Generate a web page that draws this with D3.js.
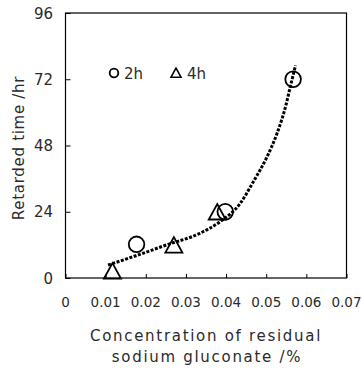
<!DOCTYPE html>
<html><head><meta charset="utf-8">
<script src="https://cdn.jsdelivr.net/npm/d3@7/dist/d3.min.js"></script>
<style>
html,body{margin:0;padding:0;background:#fff;}
svg{display:block;font-family:"DejaVu Sans",sans-serif;}
</style></head>
<body>
<svg id="chart" width="362" height="369"></svg>
<script>
const xTicks = [0, 0.01, 0.02, 0.03, 0.04, 0.05, 0.06, 0.07];
const xTickLabels = ["0", "0.01", "0.02", "0.03", "0.04", "0.05", "0.06", "0.07"];
const yTicks = [0, 24, 48, 72, 96];
const series2hX = [0.0177, 0.0398, 0.0567];
const series2hY = [12.2, 24, 72];
const series4hX = [0.0117, 0.027, 0.0378];
const series4hY = [2.6, 12, 24];
const trendX = [0.0106, 0.0168, 0.0252, 0.0335, 0.0385, 0.0435, 0.0468, 0.0502, 0.0527, 0.0548, 0.056, 0.0573];
const trendY = [4.7, 7.7, 12, 16.2, 20.4, 27, 34.9, 43.9, 52.4, 62, 69.3, 77];
const legendLabels = ["2h", "4h"];

const svg = d3.select("#chart");
const x = d3.scaleLinear().domain([0, 0.07]).range([65.5, 346.5]);
const y = d3.scaleLinear().domain([0, 96]).range([278, 13]);
const textFill = "#2a2a2a";

// frame
svg.append("rect").attr("x", x(0)).attr("y", y(96))
  .attr("width", x(0.07) - x(0)).attr("height", y(0) - y(96))
  .attr("fill", "none").attr("stroke", "#000").attr("stroke-width", 1.2);

// x axis (ticks inward)
const xAxis = d3.axisBottom(x).tickValues(xTicks).tickSize(-4).tickPadding(0).tickFormat(() => "");
const gx = svg.append("g").attr("transform", `translate(0,${y(0)})`).call(xAxis);
gx.select(".domain").remove();
gx.selectAll(".tick line").attr("stroke", "#000").attr("stroke-width", 1);
svg.append("g").selectAll("text").data(xTicks).join("text")
  .attr("x", d => x(d)).attr("y", 307)
  .attr("text-anchor", "middle").attr("font-size", 13.5).attr("fill", textFill)
  .text((d, i) => xTickLabels[i]);

// y axis (ticks inward)
const yAxis = d3.axisLeft(y).tickValues(yTicks).tickSize(-5).tickPadding(0).tickFormat(() => "");
const gy = svg.append("g").attr("transform", `translate(${x(0)},0)`).call(yAxis);
gy.select(".domain").remove();
gy.selectAll(".tick line").attr("stroke", "#000").attr("stroke-width", 1);
svg.append("g").selectAll("text").data(yTicks).join("text")
  .attr("x", 53).attr("y", d => y(d) + 5.5)
  .attr("text-anchor", "end").attr("font-size", 15).attr("fill", textFill)
  .text(d => d);

// titles
svg.append("text").attr("transform", "translate(24,148) rotate(-90)")
  .attr("text-anchor", "middle").attr("font-size", 15).attr("fill", textFill)
  .attr("letter-spacing", 0.7).text("Retarded time /hr");
svg.append("text").attr("x", 206).attr("y", 341)
  .attr("text-anchor", "middle").attr("font-size", 15).attr("fill", textFill)
  .attr("letter-spacing", 1.7).text("Concentration of residual");
svg.append("text").attr("x", 207).attr("y", 362)
  .attr("text-anchor", "middle").attr("font-size", 15).attr("fill", textFill)
  .attr("letter-spacing", 1.7).text("sodium gluconate /%");

// trend curve
const trend = trendX.map((v, i) => [v, trendY[i]]);
svg.append("path").datum(trend)
  .attr("d", d3.line().x(d => x(d[0])).y(d => y(d[1])).curve(d3.curveMonotoneX))
  .attr("fill", "none").attr("stroke", "#000").attr("stroke-width", 3)
  .attr("stroke-dasharray", "3,1.5");

// markers
svg.append("g").selectAll("circle").data(series2hX).join("circle")
  .attr("cx", d => x(d)).attr("cy", (d, i) => y(series2hY[i])).attr("r", 7.8)
  .attr("fill", "none").attr("stroke", "#000").attr("stroke-width", 1.8);
const tri = () => {
  const h = 15.5, w = 17;
  return `M0,${-h/2}L${w/2},${h/2}L${-w/2},${h/2}Z`;
};
svg.append("g").selectAll("path").data(series4hX).join("path")
  .attr("transform", (d, i) => `translate(${x(d)},${y(series4hY[i])})`)
  .attr("d", tri).attr("fill", "none").attr("stroke", "#000").attr("stroke-width", 1.8);

// legend
svg.append("circle").attr("cx", 114).attr("cy", 73).attr("r", 4.3)
  .attr("fill", "none").attr("stroke", "#000").attr("stroke-width", 1.8);
svg.append("text").attr("x", 124).attr("y", 78.5).attr("font-size", 15).attr("fill", textFill).text(legendLabels[0]);
svg.append("path").attr("transform", "translate(176,73)")
  .attr("d", "M0,-4.8L5,4.2L-5,4.2Z").attr("fill", "none").attr("stroke", "#000").attr("stroke-width", 1.6);
svg.append("text").attr("x", 187).attr("y", 78.5).attr("font-size", 15).attr("fill", textFill).text(legendLabels[1]);
</script>
</body></html>
